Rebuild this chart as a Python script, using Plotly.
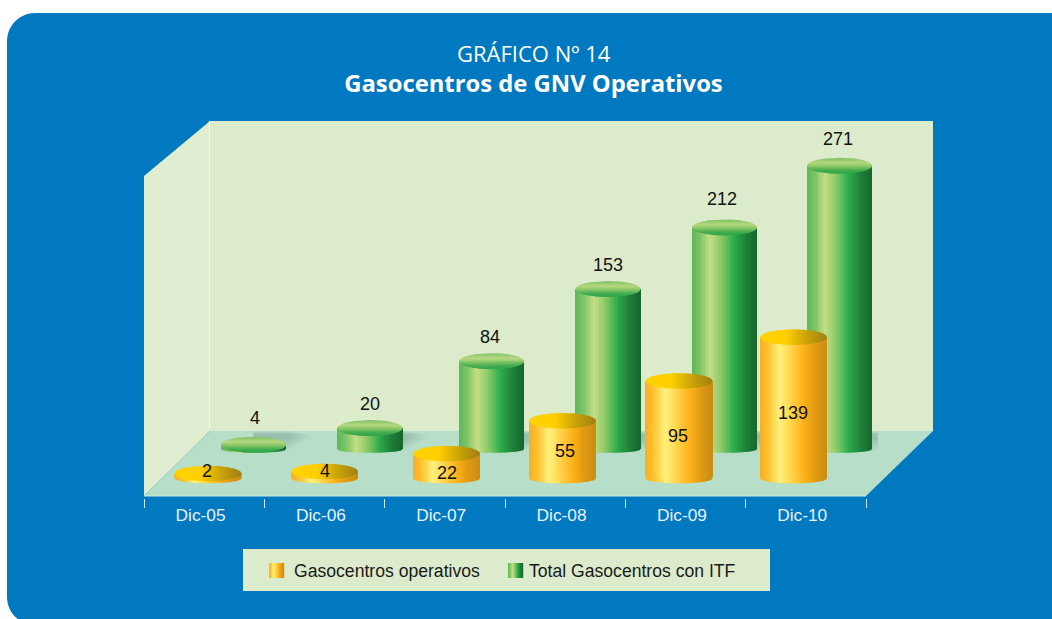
import numpy as np
import plotly.graph_objects as go

# ---------- data ----------
categories = ["Dic-05", "Dic-06", "Dic-07", "Dic-08", "Dic-09", "Dic-10"]
gasocentros_operativos = [2, 4, 22, 55, 95, 139]
total_gasocentros_itf = [4, 20, 84, 153, 212, 271]
series_names = ["Gasocentros operativos", "Total Gasocentros con ITF"]
title_top = "GRÁFICO Nº 14"
title_main = "Gasocentros de GNV Operativos"

# ---------- layout constants (pixel geometry of the pseudo-3D box) ----------
W, H = 1052, 619
AX_L, AX_R, AX_B, AX_T = 144, 866, 498, 121
UNIT = (AX_R - AX_L) / 6.0
X_EXTRA = 0.1  # axis runs a little past the last tick so the last cylinder is kept
# zero line and px-per-unit of the two depth planes
OR_ZERO, OR_SCALE = 475.5, 0.995
GR_ZERO, GR_SCALE = 449.0, 1.045
# cylinder centres along the category axis (perspective drift)
or_pos = [0.032, 1.000, 2.014, 2.978, 3.946, 4.898]
gr_pos = [0.410, 1.378, 2.388, 3.356, 4.324, 5.280]
OR_W, GR_W = 67 / UNIT, 65 / UNIT
N = 33
or_label_shift = [4, 3, -8, -3, -8, -7]
or_label_dx = [-1, 0, 0, 2, -1, -1]
gr_label_dx = [1, 0, -2, 0, -2, -2]
gr_label_shift = [27, 24, 24, 24, 28, 27]

BLUE = "#0179c1"
WALL = "#dcebcb"
WALL_L = "#dfedd0"
FLOOR = "#b7dec9"


def hex2rgb(h):
    return np.array([int(h[i:i + 2], 16) for i in (1, 3, 5)], float)


def ramp(stops, t):
    ts = [s[0] for s in stops]
    cs = np.array([hex2rgb(s[1]) for s in stops])
    c = [np.interp(t, ts, cs[:, k]) for k in range(3)]
    return "rgb(%d,%d,%d)" % tuple(round(v) for v in c)


OR_SIDE = [(0, "#f8ae22"), (0.12, "#fcc02f"), (0.30, "#fff27c"), (0.52, "#ffcb3d"),
           (0.68, "#fbae17"), (0.85, "#dc9812"), (1, "#c88d12")]
GR_SIDE = [(0, "#5db85a"), (0.14, "#82c566"), (0.29, "#c4dd85"), (0.45, "#8dca68"),
           (0.64, "#2cae4b"), (0.82, "#1f8239"), (1, "#14672c")]
OR_TOP = [(0, "#ffd200"), (0.38, "#ffd000"), (0.70, "#c8a208"), (1, "#a17e14")]
GR_TOP = [(0, "#7cc064"), (0.32, "#b8d87f"), (0.55, "#86c566"), (0.80, "#3fac4e"), (1, "#2fa54a")]


def px(x, y):
    return "%.5f %.5f" % (x / W, 1 - y / H)


def poly(points, color, layer="below"):
    d = "M " + " L ".join(px(*p) for p in points) + " Z"
    return dict(type="path", xref="paper", yref="paper", path=d, fillcolor=color,
                line=dict(width=0), layer=layer)


def rrect(x0, y0, x1, y1, r, color):
    k = 0.45 * r
    d = ("M " + px(x0 + r, y0) + " L " + px(x1, y0) + " L " + px(x1, y1)
         + " L " + px(x0 + r, y1)
         + " C " + px(x0 + k, y1) + " " + px(x0, y1 - k) + " " + px(x0, y1 - r)
         + " L " + px(x0, y0 + r)
         + " C " + px(x0, y0 + k) + " " + px(x0 + k, y0) + " " + px(x0 + r, y0) + " Z")
    return dict(type="path", xref="paper", yref="paper", path=d, fillcolor=color,
                line=dict(width=0), layer="below")


fig = go.Figure()


def ghost(xs, ys, color, yaxis):
    fig.add_trace(go.Scatter(x=xs, y=ys, mode="lines", fill="toself", fillcolor=color,
                             line=dict(width=0), yaxis=yaxis, hoverinfo="skip",
                             showlegend=False, cliponaxis=False))


def draw_series(values, pos, width, scale, side, top, yaxis, bot_drop, bot_b, top_b, top_vertical):
    du = 2.0 / N
    over = 0.7 / (UNIT * width / 2)  # overlap in u units
    for i in range(N):
        u0 = -1 + i * du
        u1 = u0 + du
        col = ramp(side, (i + 0.5) / N)
        # body
        fig.add_trace(go.Bar(x=[p + (u0 + u1) / 2 * width / 2 for p in pos], y=values,
                             width=(du + over) * width / 2, marker=dict(color=col, line=dict(width=0)),
                             yaxis=yaxis, hoverinfo="skip", showlegend=False, cliponaxis=False,
                             name=series_names[0] if yaxis == "y2" else series_names[1]))
        # rounded foot
        xs, ys = [], []
        for p in pos:
            uu = np.linspace(u0, min(u1 + over, 1), 4)
            xx = p + uu * width / 2
            yy = -(bot_drop + bot_b * np.sqrt(np.clip(1 - uu ** 2, 0, 1))) / scale
            xs += [xx[0]] + list(xx) + [xx[-1], xx[0], None]
            ys += [0.5] + list(yy) + [0.5, 0.5, None]
        ghost(xs, ys, col, yaxis)
    # top ellipses
    if top_vertical:
        M = 16
        for j in range(M):
            s0 = 1 - j * 2.0 / M
            s1 = max(s0 - 2.0 / M - 0.06, -1)
            col = ramp(top, (j + 0.5) / M)
            xs, ys = [], []
            for p, v in zip(pos, values):
                ss = np.linspace(s0, s1, 5)
                half = np.sqrt(np.clip(1 - ss ** 2, 0, 1))
                xx = list(p - half * width / 2) + list(p + half[::-1] * width / 2)
                yy = list(v + ss * top_b / scale) + list(v + ss[::-1] * top_b / scale)
                xs += xx + [xx[0], None]
                ys += yy + [yy[0], None]
            ghost(xs, ys, col, yaxis)
    else:
        for i in range(N):
            u0 = -1 + i * du
            u1 = min(u0 + du + over, 1)
            col = ramp(top, (i + 0.5) / N)
            xs, ys = [], []
            for p, v in zip(pos, values):
                uu = np.linspace(u0, u1, 4)
                h = np.sqrt(np.clip(1 - uu ** 2, 0, 1)) * top_b / scale
                xx = list(p + uu * width / 2) + list(p + uu[::-1] * width / 2)
                yy = list(v + h) + list(v - h[::-1])
                xs += xx + [xx[0], None]
                ys += yy + [yy[0], None]
            ghost(xs, ys, col, yaxis)


draw_series(total_gasocentros_itf, gr_pos, GR_W, GR_SCALE, GR_SIDE, GR_TOP, "y", 0.3, 3.5, 8.0, True)
draw_series(gasocentros_operativos, or_pos, OR_W, OR_SCALE, OR_SIDE, OR_TOP, "y2", 2.8, 5.0, 7.7, False)

# ---------- data labels ----------
annots = []
LBL = dict(family="Liberation Sans, Arial, sans-serif", size=18, color="#111111")
for p, v, dx, sh in zip(gr_pos, total_gasocentros_itf, gr_label_dx, gr_label_shift):
    annots.append(dict(x=p, y=v, xref="x", yref="y", text=str(v), showarrow=False, font=LBL,
                       yshift=sh, xshift=dx))
for p, v, sh, dx in zip(or_pos, gasocentros_operativos, or_label_shift, or_label_dx):
    annots.append(dict(x=p, y=v / 2, xref="x", yref="y2", text=str(v), showarrow=False, font=LBL,
                       yshift=sh, xshift=dx))

# ---------- box, shadows, legend ----------
shapes = [
    rrect(7, 13, 1060, 625, 28, BLUE),
    poly([(144, 176), (210, 121), (210, 431), (144, 496)], WALL_L),
    poly([(210, 121), (933, 121), (933, 431), (210, 431)], WALL),
    poly([(144, 496), (210, 431), (933, 431), (866, 496)], FLOOR),
    dict(type="line", xref="paper", yref="paper", x0=209.5 / W, x1=209.5 / W, y0=1 - 121 / H, y1=1 - 428 / H,
         line=dict(color="#f4f8ec", width=1.2), layer="below"),
    dict(type="line", xref="paper", yref="paper", x0=144 / W, x1=866 / W, y0=1 - 496 / H, y1=1 - 496 / H,
         line=dict(color="#d5e9e3", width=1), layer="below"),
]
# soft shadows on the floor behind the green cylinders
for step in range(1, 9):
    grow = step * 3
    for p in gr_pos:
        shapes.append(dict(type="rect", xref="x", yref="y", layer="below",
                           x0=p, x1=p + (GR_W * UNIT / 2 + grow) / UNIT,
                           y0=(GR_ZERO - (452 - step * 1.6)) / GR_SCALE,
                           y1=(GR_ZERO - (431 + step * 0.4)) / GR_SCALE,
                           fillcolor="rgba(70,105,95,0.032)", line=dict(width=0)))
shapes.append(poly([(243, 549), (770, 549), (770, 591), (243, 591)], WALL))
for sx, ramp_def in ((269, OR_SIDE), (508, GR_SIDE)):
    for i in range(15):
        shapes.append(poly([(sx + i, 563), (sx + i + 1.2, 563), (sx + i + 1.2, 578), (sx + i, 578)],
                           ramp(ramp_def, (i + 0.5) / 15)))
LEG = dict(family="Liberation Sans, Arial, sans-serif", size=17.6, color="#1a1a1a")
annots.append(dict(x=292 / W, y=1 - 571 / H, xref="paper", yref="paper", text=series_names[0],
                   showarrow=False, xanchor="left", yanchor="middle", font=LEG))
annots.append(dict(x=526.5 / W, y=1 - 571 / H, xref="paper", yref="paper", text=series_names[1],
                   showarrow=False, xanchor="left", yanchor="middle", font=LEG))
annots.append(dict(x=533.5 / W, y=1 - 53 / H, xref="paper", yref="paper", text=title_top, showarrow=False,
                   xanchor="center", yanchor="middle",
                   font=dict(family="Open Sans, sans-serif", size=22, color="white")))

fig.update_layout(
    width=W, height=H, autosize=False, margin=dict(l=0, r=0, t=0, b=0),
    paper_bgcolor="white", plot_bgcolor="rgba(0,0,0,0)",
    barmode="overlay", bargap=0, hovermode=False, showlegend=False,
    shapes=shapes, annotations=annots,
    title=dict(text="<b>%s</b>" % title_main, x=533.5 / W, xanchor="center", xref="paper",
               y=1 - 84 / H, yanchor="middle", yref="paper",
               font=dict(family="Open Sans, sans-serif", size=23.8, color="white")),
    xaxis=dict(domain=[AX_L / W, (AX_R + X_EXTRA * UNIT) / W], range=[-0.5, 5.5 + X_EXTRA], tickmode="array",
               tickvals=[i - 0.03 for i in range(6)], ticktext=categories, ticklen=0,
               showgrid=False, zeroline=False, showline=False, ticklabelstandoff=5,
               tickfont=dict(family="Liberation Sans, Arial, sans-serif", size=17.3, color="#e9f3fa"),
               minor=dict(tickmode="array", tickvals=[i - 0.5 for i in range(7)], ticks="outside",
                          ticklen=9, tickwidth=1, tickcolor="#d3e6f3", showgrid=False),
               anchor="y", fixedrange=True),
    yaxis=dict(domain=[1 - AX_B / H, 1 - AX_T / H], visible=False, fixedrange=True,
               range=[(GR_ZERO - AX_B) / GR_SCALE, (GR_ZERO - AX_T) / GR_SCALE]),
    yaxis2=dict(domain=[1 - AX_B / H, 1 - AX_T / H], visible=False, fixedrange=True, overlaying="y",
                range=[(OR_ZERO - AX_B) / OR_SCALE, (OR_ZERO - AX_T) / OR_SCALE]),
)

fig.write_html("out.html", config=dict(displayModeBar=False),
               post_script="document.body.style.margin='0';document.body.style.overflow='hidden';")
